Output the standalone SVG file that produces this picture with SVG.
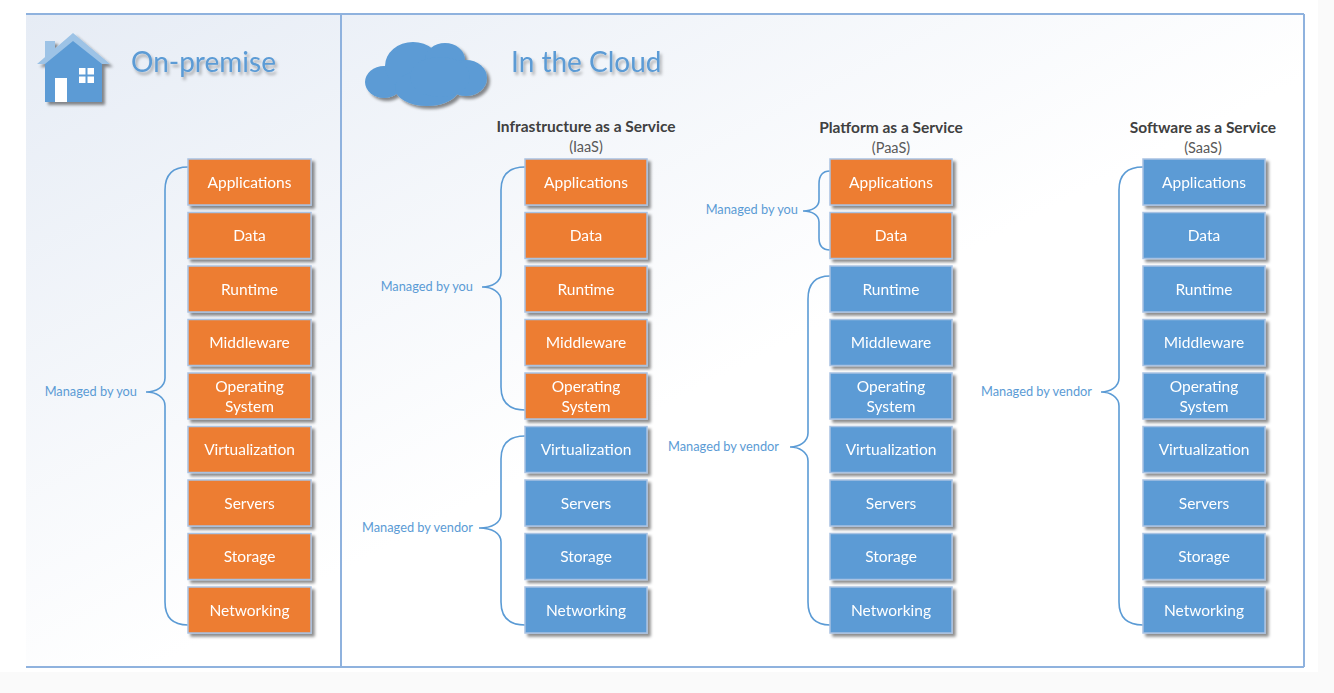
<svg xmlns="http://www.w3.org/2000/svg" width="1334" height="693" viewBox="0 0 1334 693">
<defs>
<linearGradient id="bg" x1="0" y1="0" x2="1" y2="1">
<stop offset="0" stop-color="#E6ECF5"/>
<stop offset="0.55" stop-color="#FFFFFF"/>
<stop offset="1" stop-color="#FFFFFF"/>
</linearGradient>
<filter id="sh" x="-20%" y="-20%" width="150%" height="150%">
<feGaussianBlur in="SourceAlpha" stdDeviation="1.8"/>
<feOffset dx="3" dy="3" result="b"/>
<feFlood flood-color="#000" flood-opacity="0.45"/>
<feComposite in2="b" operator="in"/>
<feMerge><feMergeNode/><feMergeNode in="SourceGraphic"/></feMerge>
</filter>
<filter id="tsh" x="-10%" y="-20%" width="130%" height="160%">
<feGaussianBlur in="SourceAlpha" stdDeviation="1.5"/>
<feOffset dx="2" dy="3" result="b"/>
<feFlood flood-color="#000" flood-opacity="0.3"/>
<feComposite in2="b" operator="in"/>
<feMerge><feMergeNode/><feMergeNode in="SourceGraphic"/></feMerge>
</filter>
<style>
.bx rect{stroke:#A9C2E2;stroke-width:1.5}
.o rect{fill:#ED7D31}
.b rect{fill:#5B9BD5}
.bx text{font-family:Lato,"Open Sans",sans-serif;font-size:15.5px;fill:#FFFFFF;text-anchor:middle}
.br{fill:none;stroke:#5B9BD5;stroke-width:1.6}
.lbl{font-family:Lato,"Open Sans",sans-serif;font-size:12.8px;fill:#5B9BD5;text-anchor:end}
.hd{font-family:Lato,"Open Sans",sans-serif;font-size:28px;fill:#5B9BD5}
.st{font-family:Lato,"Open Sans",sans-serif;font-size:15.5px;font-weight:bold;fill:#404040;text-anchor:middle}
.sa{font-family:Lato,"Open Sans",sans-serif;font-size:14.5px;fill:#595959;text-anchor:middle}
.fr{fill:none;stroke:#8FB2DE;stroke-width:2}
</style>
</defs>
<rect x="0" y="0" width="1334" height="693" fill="#FFFFFF"/>
<rect x="0" y="672" width="1334" height="21" fill="#FAFAFA"/>
<rect x="1318" y="0" width="16" height="693" fill="#FAFAFA"/>
<rect x="26" y="14" width="1278" height="653" fill="url(#bg)"/>
<g id="frame">
<line class="fr" x1="26" y1="14" x2="1304" y2="14"/>
<line class="fr" x1="26" y1="667" x2="1304" y2="667"/>
<line class="fr" x1="1304" y1="14" x2="1304" y2="667"/>
<line class="fr" x1="341" y1="14" x2="341" y2="667"/>
</g>
<g id="house" filter="url(#sh)">
<polygon points="37,64 73,33 110,64" fill="#9DC3E6"/>
<rect x="45" y="41" width="10" height="16" fill="#9DC3E6"/>
<polygon points="45,102 45,64 73,41 102,64 102,102" fill="#5B9BD5"/>
<rect x="55" y="78" width="12" height="24" fill="#FFFFFF"/>
<rect x="79" y="68" width="15" height="15" fill="#FFFFFF"/>
<line x1="86.5" y1="68" x2="86.5" y2="83" stroke="#5B9BD5" stroke-width="2"/>
<line x1="79" y1="75.5" x2="94" y2="75.5" stroke="#5B9BD5" stroke-width="2"/>
</g>
<text id="t-onprem" class="hd" x="131" y="72" filter="url(#tsh)">On-premise</text>
<g id="cloud" filter="url(#sh)" fill="#5B9BD5">
<ellipse cx="384" cy="82" rx="19" ry="16"/>
<ellipse cx="413" cy="66" rx="28" ry="24"/>
<ellipse cx="445" cy="60" rx="20" ry="17"/>
<ellipse cx="466" cy="78" rx="21" ry="18"/>
<ellipse cx="427" cy="88" rx="32" ry="18"/>
<ellipse cx="440" cy="77" rx="30" ry="20"/>
</g>
<text id="t-cloud" class="hd" x="511" y="72" filter="url(#tsh)">In the Cloud</text>
<g id="titles">
<text class="st" x="586" y="132">Infrastructure as a Service</text>
<text class="sa" x="586" y="152">(IaaS)</text>
<text class="st" x="891" y="133">Platform as a Service</text>
<text class="sa" x="891" y="153">(PaaS)</text>
<text class="st" x="1203" y="133">Software as a Service</text>
<text class="sa" x="1203" y="153">(SaaS)</text>
</g>
<g id="connectors">
<path class="br" d="M188,167 C172,167 165,175 165,190 L165,378 C165,387 156,392 146,392 C156,392 165,397 165,406 L165,602 C165,617 172,625 188,625"/>
<path class="br" d="M525,167 C509,167 501,175 501,190 L501,273 C501,282 492,287 482,287 C492,287 501,292 501,301 L501,387 C501,402 509,410 525,410"/>
<path class="br" d="M525,436 C509,436 501,444 501,459 L501,514 C501,523 492,528 479,528 C492,528 501,533 501,542 L501,602 C501,617 509,625 525,625"/>
<path class="br" d="M830,171 C822,171 819,176 819,184 L819,200 C819,207 812,211 803,211 C812,211 819,215 819,222 L819,238 C819,246 822,250 830,250"/>
<path class="br" d="M830,276 C815,276 808,284 808,299 L808,433 C808,442 799,447 790,447 C799,447 808,452 808,461 L808,602 C808,617 815,625 830,625"/>
<path class="br" d="M1143,167 C1127,167 1119,175 1119,190 L1119,378 C1119,387 1110,392 1101,392 C1110,392 1119,397 1119,406 L1119,602 C1119,617 1127,625 1143,625"/>
<text class="lbl" x="137" y="396">Managed by you</text>
<text class="lbl" x="473" y="291">Managed by you</text>
<text class="lbl" x="473" y="532">Managed by vendor</text>
<text class="lbl" x="798" y="214">Managed by you</text>
<text class="lbl" x="779" y="451">Managed by vendor</text>
<text class="lbl" x="1092" y="396">Managed by vendor</text>
</g>
<g id="onprem">
<g id="op-apps" class="bx o" filter="url(#sh)"><rect x="188" y="159" width="123" height="46"/><text x="249.5" y="187.5">Applications</text></g>
<g id="op-data" class="bx o" filter="url(#sh)"><rect x="188" y="212.5" width="123" height="46"/><text x="249.5" y="241">Data</text></g>
<g id="op-runtime" class="bx o" filter="url(#sh)"><rect x="188" y="266" width="123" height="46"/><text x="249.5" y="294.5">Runtime</text></g>
<g id="op-mw" class="bx o" filter="url(#sh)"><rect x="188" y="319.5" width="123" height="46"/><text x="249.5" y="348">Middleware</text></g>
<g id="op-os" class="bx o" filter="url(#sh)"><rect x="188" y="373" width="123" height="46"/><text x="249.5" y="391.5">Operating</text><text x="249.5" y="411.5">System</text></g>
<g id="op-virt" class="bx o" filter="url(#sh)"><rect x="188" y="426.5" width="123" height="46"/><text x="249.5" y="455">Virtualization</text></g>
<g id="op-srv" class="bx o" filter="url(#sh)"><rect x="188" y="480" width="123" height="46"/><text x="249.5" y="508.5">Servers</text></g>
<g id="op-sto" class="bx o" filter="url(#sh)"><rect x="188" y="533.5" width="123" height="46"/><text x="249.5" y="562">Storage</text></g>
<g id="op-net" class="bx o" filter="url(#sh)"><rect x="188" y="587" width="123" height="46"/><text x="249.5" y="615.5">Networking</text></g>
</g>
<g id="iaas">
<g id="ia-apps" class="bx o" filter="url(#sh)"><rect x="525" y="159" width="122" height="46"/><text x="586" y="187.5">Applications</text></g>
<g id="ia-data" class="bx o" filter="url(#sh)"><rect x="525" y="212.5" width="122" height="46"/><text x="586" y="241">Data</text></g>
<g id="ia-runtime" class="bx o" filter="url(#sh)"><rect x="525" y="266" width="122" height="46"/><text x="586" y="294.5">Runtime</text></g>
<g id="ia-mw" class="bx o" filter="url(#sh)"><rect x="525" y="319.5" width="122" height="46"/><text x="586" y="348">Middleware</text></g>
<g id="ia-os" class="bx o" filter="url(#sh)"><rect x="525" y="373" width="122" height="46"/><text x="586" y="391.5">Operating</text><text x="586" y="411.5">System</text></g>
<g id="ia-virt" class="bx b" filter="url(#sh)"><rect x="525" y="426.5" width="122" height="46"/><text x="586" y="455">Virtualization</text></g>
<g id="ia-srv" class="bx b" filter="url(#sh)"><rect x="525" y="480" width="122" height="46"/><text x="586" y="508.5">Servers</text></g>
<g id="ia-sto" class="bx b" filter="url(#sh)"><rect x="525" y="533.5" width="122" height="46"/><text x="586" y="562">Storage</text></g>
<g id="ia-net" class="bx b" filter="url(#sh)"><rect x="525" y="587" width="122" height="46"/><text x="586" y="615.5">Networking</text></g>
</g>
<g id="paas">
<g id="pa-apps" class="bx o" filter="url(#sh)"><rect x="830" y="159" width="122" height="46"/><text x="891" y="187.5">Applications</text></g>
<g id="pa-data" class="bx o" filter="url(#sh)"><rect x="830" y="212.5" width="122" height="46"/><text x="891" y="241">Data</text></g>
<g id="pa-runtime" class="bx b" filter="url(#sh)"><rect x="830" y="266" width="122" height="46"/><text x="891" y="294.5">Runtime</text></g>
<g id="pa-mw" class="bx b" filter="url(#sh)"><rect x="830" y="319.5" width="122" height="46"/><text x="891" y="348">Middleware</text></g>
<g id="pa-os" class="bx b" filter="url(#sh)"><rect x="830" y="373" width="122" height="46"/><text x="891" y="391.5">Operating</text><text x="891" y="411.5">System</text></g>
<g id="pa-virt" class="bx b" filter="url(#sh)"><rect x="830" y="426.5" width="122" height="46"/><text x="891" y="455">Virtualization</text></g>
<g id="pa-srv" class="bx b" filter="url(#sh)"><rect x="830" y="480" width="122" height="46"/><text x="891" y="508.5">Servers</text></g>
<g id="pa-sto" class="bx b" filter="url(#sh)"><rect x="830" y="533.5" width="122" height="46"/><text x="891" y="562">Storage</text></g>
<g id="pa-net" class="bx b" filter="url(#sh)"><rect x="830" y="587" width="122" height="46"/><text x="891" y="615.5">Networking</text></g>
</g>
<g id="saas">
<g id="sa-apps" class="bx b" filter="url(#sh)"><rect x="1143" y="159" width="122" height="46"/><text x="1204" y="187.5">Applications</text></g>
<g id="sa-data" class="bx b" filter="url(#sh)"><rect x="1143" y="212.5" width="122" height="46"/><text x="1204" y="241">Data</text></g>
<g id="sa-runtime" class="bx b" filter="url(#sh)"><rect x="1143" y="266" width="122" height="46"/><text x="1204" y="294.5">Runtime</text></g>
<g id="sa-mw" class="bx b" filter="url(#sh)"><rect x="1143" y="319.5" width="122" height="46"/><text x="1204" y="348">Middleware</text></g>
<g id="sa-os" class="bx b" filter="url(#sh)"><rect x="1143" y="373" width="122" height="46"/><text x="1204" y="391.5">Operating</text><text x="1204" y="411.5">System</text></g>
<g id="sa-virt" class="bx b" filter="url(#sh)"><rect x="1143" y="426.5" width="122" height="46"/><text x="1204" y="455">Virtualization</text></g>
<g id="sa-srv" class="bx b" filter="url(#sh)"><rect x="1143" y="480" width="122" height="46"/><text x="1204" y="508.5">Servers</text></g>
<g id="sa-sto" class="bx b" filter="url(#sh)"><rect x="1143" y="533.5" width="122" height="46"/><text x="1204" y="562">Storage</text></g>
<g id="sa-net" class="bx b" filter="url(#sh)"><rect x="1143" y="587" width="122" height="46"/><text x="1204" y="615.5">Networking</text></g>
</g>
</svg>
